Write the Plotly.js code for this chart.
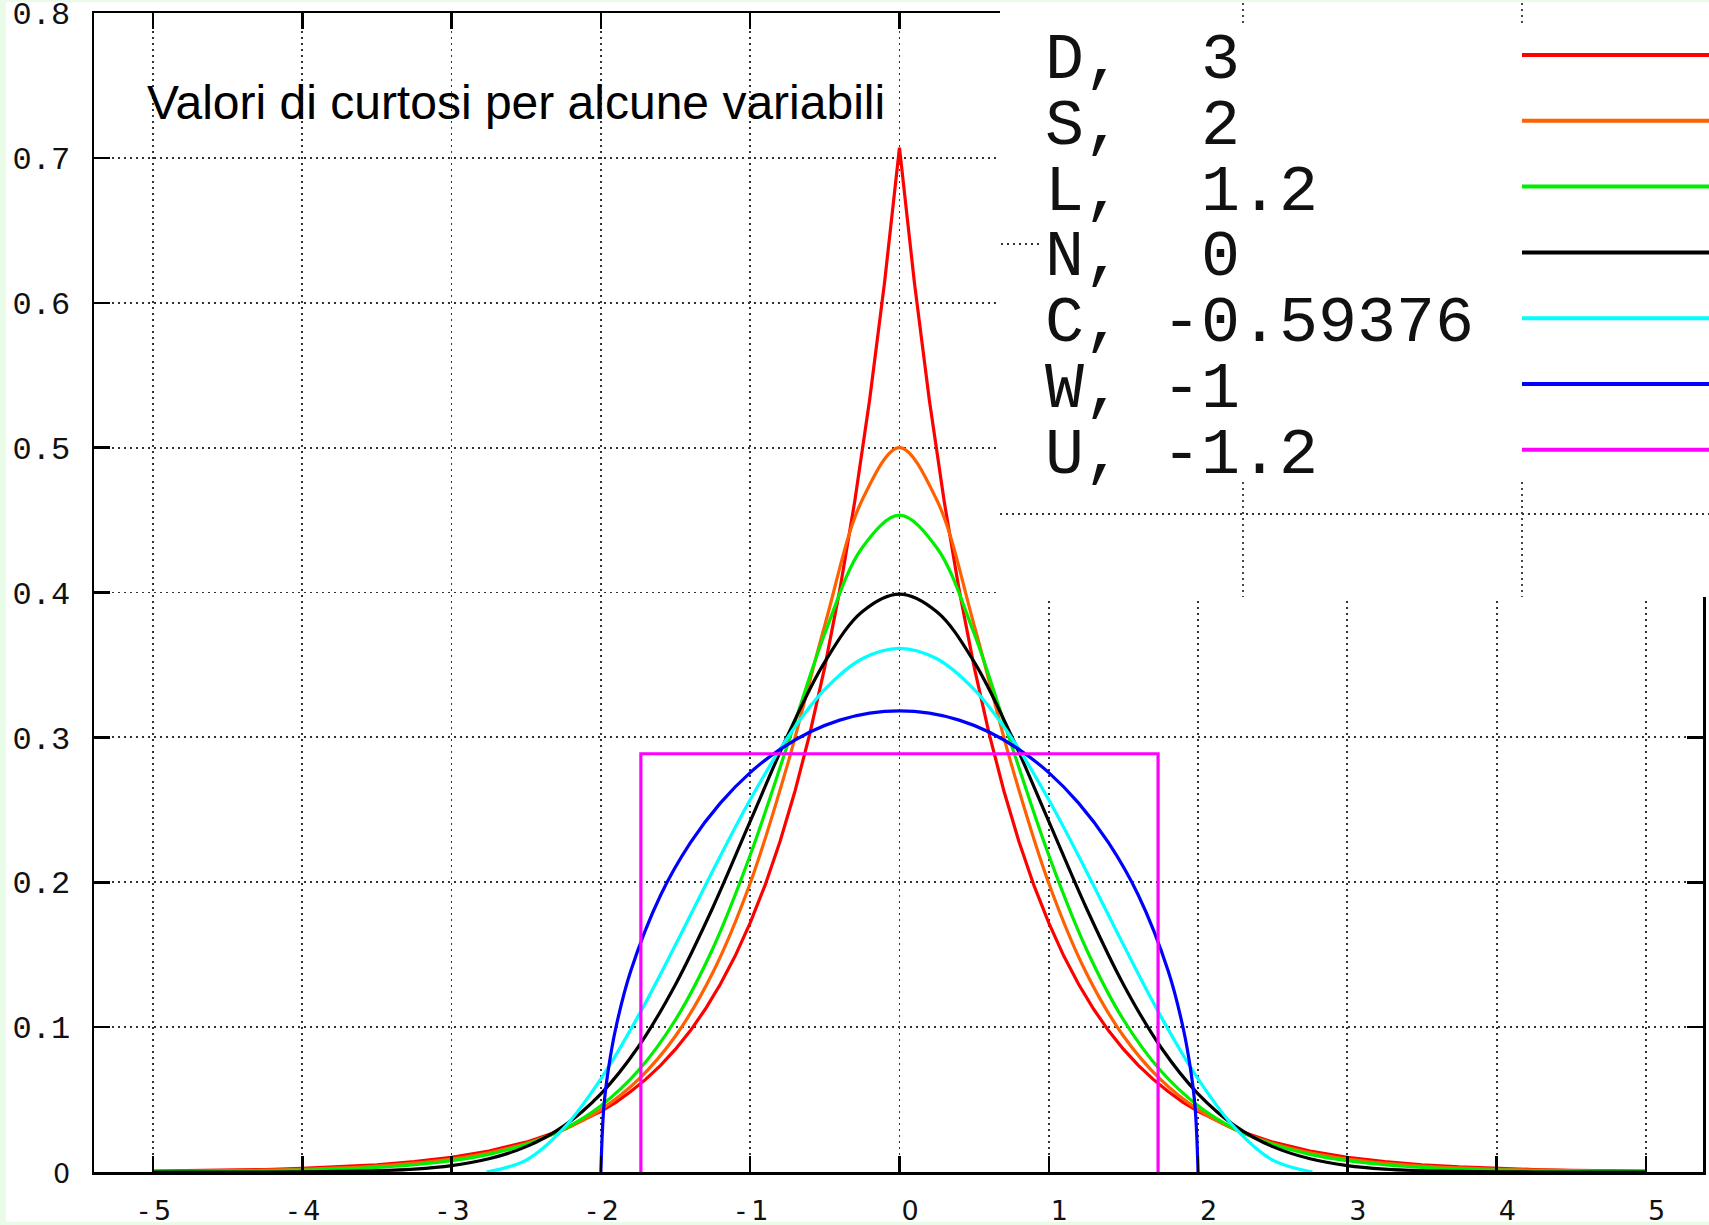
<!DOCTYPE html>
<html>
<head>
<meta charset="utf-8">
<script src="https://cdn.plot.ly/plotly-3.0.1.min.js"></script>
<style>html,body{margin:0;padding:0;background:#e8fce8;}</style>
</head>
<body>
<div id="chart" style="width:1709px;height:1225px;"></div>
<script>
// ---- data ----
const seriesCodes = ["D", "S", "L", "N", "C", "W", "U"];
const kurtosisLabels = ["3", "2", "1.2", "0", "-0.59376", "-1", "-1.2"];
const seriesColors = ["#ff0000", "#ff6000", "#00ee00", "#000000", "#00ffff", "#0000ff", "#ff00ff"];

const xGrid = [-5,-4.75,-4.5,-4.25,-4,-3.75,-3.5,-3.25,-3,-2.75,-2.5,-2.25,-2,-1.75,-1.5,-1.25,-1,-0.75,-0.5,-0.25,0,
               0.25,0.5,0.75,1,1.25,1.5,1.75,2,2.25,2.5,2.75,3,3.25,3.5,3.75,4,4.25,4.5,4.75,5];

const xD = [-5,-4.75,-4.5,-4.25,-4,-3.75,-3.5,-3.25,-3,-2.75,-2.5,-2.25,-2,-1.9,-1.8,-1.7,-1.6,-1.5,-1.4,-1.3,-1.2,-1.1,-1,-0.9,-0.8,-0.7,-0.6,-0.5,-0.4,-0.3,-0.2,-0.1,0,
            0.1,0.2,0.3,0.4,0.5,0.6,0.7,0.8,0.9,1,1.1,1.2,1.3,1.4,1.5,1.6,1.7,1.8,1.9,2,2.25,2.5,2.75,3,3.25,3.5,3.75,4,4.25,4.5,4.75,5];
const yD = [0.0006,0.0009,0.0012,0.0017,0.0025,0.0035,0.0050,0.0071,0.0102,0.0145,0.0206,0.0294,0.0418,0.0481,0.0555,0.0639,0.0736,0.0848,0.0976,0.1125,0.1296,0.1492,0.1719,0.1980,0.2281,0.2628,0.3027,0.3487,0.4016,0.4626,0.5329,0.6139,0.7071,
            0.6139,0.5329,0.4626,0.4016,0.3487,0.3027,0.2628,0.2281,0.1980,0.1719,0.1492,0.1296,0.1125,0.0976,0.0848,0.0736,0.0639,0.0555,0.0481,0.0418,0.0294,0.0206,0.0145,0.0102,0.0071,0.0050,0.0035,0.0025,0.0017,0.0012,0.0009,0.0006];

const yS = [0.0004,0.0006,0.0009,0.0013,0.0019,0.0028,0.0041,0.0061,0.0090,0.0133,0.0197,0.0292,0.0431,0.0637,0.0939,0.1377,0.1993,0.2812,0.3775,0.4638,0.5000,
            0.4638,0.3775,0.2812,0.1993,0.1377,0.0939,0.0637,0.0431,0.0292,0.0197,0.0133,0.0090,0.0061,0.0041,0.0028,0.0019,0.0013,0.0009,0.0006,0.0004];

const yL = [0.0002,0.0003,0.0005,0.0008,0.0013,0.0020,0.0032,0.0050,0.0078,0.0122,0.0191,0.0296,0.0458,0.0699,0.1051,0.1543,0.2186,0.2947,0.3717,0.4309,0.4534,
            0.4309,0.3717,0.2947,0.2186,0.1543,0.1051,0.0699,0.0458,0.0296,0.0191,0.0122,0.0078,0.0050,0.0032,0.0020,0.0013,0.0008,0.0005,0.0003,0.0002];

const yN = [0,0,0,0,0.0001,0.0004,0.0009,0.0020,0.0044,0.0091,0.0175,0.0317,0.0540,0.0863,0.1295,0.1826,0.2420,0.3011,0.3521,0.3867,0.3989,
            0.3867,0.3521,0.3011,0.2420,0.1826,0.1295,0.0863,0.0540,0.0317,0.0175,0.0091,0.0044,0.0020,0.0009,0.0004,0.0001,0,0,0,0];

const xC = [-2.7662,-2.5,-2.25,-2,-1.75,-1.5,-1.25,-1,-0.75,-0.5,-0.25,0,0.25,0.5,0.75,1,1.25,1.5,1.75,2,2.25,2.5,2.7662];
const yC = [0,0.0082,0.0301,0.0643,0.1076,0.1568,0.2080,0.2569,0.2998,0.3331,0.3543,0.3615,0.3543,0.3331,0.2998,0.2569,0.2080,0.1568,0.1076,0.0643,0.0301,0.0082,0];

const xW = [-2,-1.98,-1.95,-1.9,-1.8,-1.6,-1.4,-1.2,-1,-0.8,-0.6,-0.4,-0.2,0,0.2,0.4,0.6,0.8,1,1.2,1.4,1.6,1.8,1.9,1.95,1.98,2];
const yW = [0,0.0449,0.0707,0.0994,0.1387,0.1910,0.2273,0.2546,0.2757,0.2917,0.3037,0.3119,0.3167,0.3183,0.3167,0.3119,0.3037,0.2917,0.2757,0.2546,0.2273,0.1910,0.1387,0.0994,0.0707,0.0449,0];

const xU = [-1.7321,-1.7321,1.7321,1.7321];
const yU = [0,0.2887,0.2887,0];

const xTickVals = [-5,-4,-3,-2,-1,0,1,2,3,4,5];
const xTickText = ["-\u20095","-\u20094","-\u20093","-\u20092","-\u20091","\u00a0\u00a00","\u00a0\u00a01","\u00a0\u00a02","\u00a0\u00a03","\u00a0\u00a04","\u00a0\u00a05"];
const yTickVals = [0,0.1,0.2,0.3,0.4,0.5,0.6,0.7,0.8];
const yTickText = ['<span style="font-family:DejaVu Sans;font-size:27px">0</span>',"0.1","0.2","0.3","0.4","0.5","0.6","0.7","0.8"];
const chartTitle = "Valori di curtosi per alcune variabili";

// ---- geometry helpers (pixel -> paper) ----
const W = 1709, H = 1225, ML = 94, MR = 6, MT = 13, MB = 53;
const PW = W - ML - MR, PH = H - MT - MB;
const px = v => (v - ML) / PW;
const py = v => (H - MB - v) / PH;

const xs = [xD, xGrid, xGrid, xGrid, xC, xW, xU];
const ys = [yD, yS, yL, yN, yC, yW, yU];
const shapesType = ["linear", "spline", "spline", "spline", "spline", "spline", "linear"];

const traces = seriesCodes.map((c, i) => ({
  type: "scatter", mode: "lines", name: c + ", " + kurtosisLabels[i],
  x: xs[i], y: ys[i],
  line: {color: seriesColors[i], width: 3.2, shape: shapesType[i], smoothing: 1},
  showlegend: false, hoverinfo: "skip"
}));

const gridDot = {color: "#333", width: 1.8, dash: "2px,4px"};
const shapes = [
  // white page area
  {type: "rect", xref: "paper", yref: "paper", layer: "below", x0: px(6), x1: px(1712), y0: py(1222), y1: py(2),
   fillcolor: "#ffffff", line: {width: 0}},
  // pasted key box
  {type: "rect", xref: "paper", yref: "paper", layer: "above", x0: px(1000), x1: px(1712), y0: py(597), y1: py(2),
   fillcolor: "#ffffff", line: {width: 0}},
  {type: "line", xref: "paper", yref: "paper", layer: "above", x0: px(1000), x1: px(1709), y0: py(514), y1: py(514), line: gridDot},
  {type: "line", xref: "paper", yref: "paper", layer: "above", x0: px(1001), x1: px(1042), y0: py(244), y1: py(244), line: gridDot},
  {type: "line", xref: "paper", yref: "paper", layer: "above", x0: px(1243), x1: px(1243), y0: py(482), y1: py(597), line: gridDot},
  {type: "line", xref: "paper", yref: "paper", layer: "above", x0: px(1522), x1: px(1522), y0: py(482), y1: py(597), line: gridDot},
  {type: "line", xref: "paper", yref: "paper", layer: "above", x0: px(1243), x1: px(1243), y0: py(3), y1: py(24), line: gridDot},
  {type: "line", xref: "paper", yref: "paper", layer: "above", x0: px(1522), x1: px(1522), y0: py(3), y1: py(24), line: gridDot}
];
const annotations = [];
seriesCodes.forEach((c, i) => {
  const lineY = 55 + 65.8 * i;
  shapes.push({type: "line", xref: "paper", yref: "paper", layer: "above",
    x0: px(1522), x1: px(1712), y0: py(lineY), y1: py(lineY),
    line: {color: seriesColors[i], width: 4}});
  const gap = kurtosisLabels[i].startsWith("-") ? "\u00a0" : "\u00a0\u00a0";
  annotations.push({xref: "paper", yref: "paper", x: px(1043), y: py(lineY + 6),
    xanchor: "left", yanchor: "middle", showarrow: false,
    text: c + "," + gap + kurtosisLabels[i],
    font: {family: "Liberation Mono, Courier New, monospace", size: 65, color: "#111"}});
});

const axisCommon = {
  showline: true, linecolor: "#000", linewidth: 2.5, mirror: "ticks",
  ticks: "inside", ticklen: 16, tickwidth: 2.5, tickcolor: "#000",
  showgrid: true, gridcolor: "#333", gridwidth: 1.8, griddash: "2px,4px",
  zeroline: false, fixedrange: true, ticklabeloverflow: "allow"
};

const layout = {
  width: W, height: H,
  margin: {l: ML, r: MR, t: MT, b: MB, pad: 0},
  paper_bgcolor: "#e8fce8", plot_bgcolor: "#ffffff",
  title: {text: chartTitle, xref: "container", yref: "container", x: 147 / W, xanchor: "left",
          y: 1 - 102 / H, yanchor: "middle",
          font: {family: "Liberation Sans, Arial, sans-serif", size: 48, color: "#000"}},
  xaxis: Object.assign({}, axisCommon, {
    range: [-5.395, 5.382], tickmode: "array", tickvals: xTickVals, ticktext: xTickText,
    tickfont: {family: "DejaVu Sans, sans-serif", size: 27, color: "#111"},
    ticklabelstandoff: 13, ticklabelshift: 2
  }),
  yaxis: Object.assign({}, axisCommon, {
    range: [0, 0.8], tickmode: "array", tickvals: yTickVals, ticktext: yTickText,
    tickfont: {family: "Liberation Mono, Courier New, monospace", size: 32, color: "#111"},
    ticklabelstandoff: 15
  }),
  shapes: shapes,
  annotations: annotations,
  showlegend: false
};

Plotly.newPlot("chart", traces, layout, {displayModeBar: false, staticPlot: true});
</script>
</body>
</html>
